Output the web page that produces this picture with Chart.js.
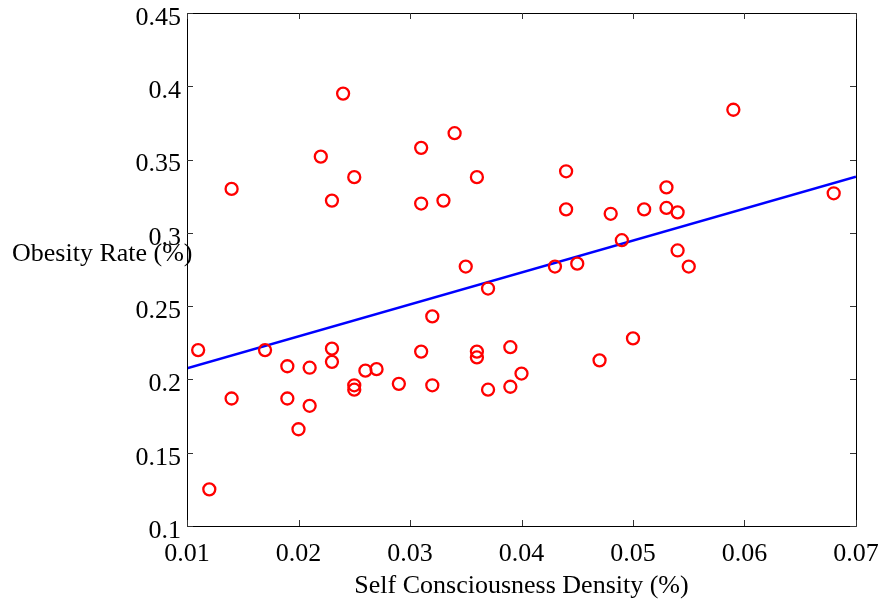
<!DOCTYPE html>
<html>
<head>
<meta charset="utf-8">
<script src="https://cdn.jsdelivr.net/npm/chart.js@4/dist/chart.umd.min.js"></script>
<style>
html,body{margin:0;padding:0;background:#fff;}
#wrap{width:881px;height:600px;}
</style>
</head>
<body>
<div id="wrap"><canvas id="c" width="881" height="600"></canvas></div>
<script>
// Data
const densityX = [0.011,0.012,0.014,0.014,0.017,0.019,0.019,0.020,0.021,0.021,
  0.022,0.023,0.023,0.023,0.024,0.025,0.025,0.025,0.026,0.027,
  0.029,0.031,0.031,0.031,0.032,0.032,0.033,0.034,0.035,0.036,
  0.036,0.036,0.037,0.037,0.039,0.039,0.040,0.043,0.044,0.044,
  0.045,0.047,0.048,0.049,0.050,0.051,0.053,0.053,0.054,0.054,
  0.055,0.059,0.068];
const obesityY = [0.220,0.125,0.330,0.187,0.220,0.209,0.187,0.166,0.208,0.182,
  0.352,0.322,0.221,0.212,0.395,0.338,0.196,0.193,0.206,0.207,
  0.197,0.358,0.320,0.219,0.243,0.196,0.322,0.368,0.277,0.338,
  0.219,0.215,0.262,0.193,0.222,0.195,0.204,0.277,0.342,0.316,
  0.279,0.213,0.313,0.295,0.228,0.316,0.331,0.317,0.314,0.288,
  0.277,0.384,0.327];
const fitX = [0.01, 0.07];
const fitY = [0.2076, 0.3383];
const xTickValues = [0.01,0.02,0.03,0.04,0.05,0.06,0.07];
const yTickValues = [0.1,0.15,0.2,0.25,0.3,0.35,0.4,0.45];
const xTitle = 'Self Consciousness Density (%)';
const yTitle = 'Obesity Rate (%)';

const FONT = '"Liberation Serif","Times New Roman",serif';
const FS = 26;
const scatterData = densityX.map((x,i)=>({x:x,y:obesityY[i]}));
const fitData = fitX.map((x,i)=>({x:x,y:fitY[i]}));

const frame = {
  id:'frame',
  afterDraw(chart){
    const ctx = chart.ctx, a = chart.chartArea;
    const xs = chart.scales.x, ys = chart.scales.y;
    ctx.save();
    ctx.strokeStyle = '#000';
    ctx.lineWidth = 1;
    ctx.beginPath();
    ctx.rect(Math.round(a.left)+0.5, Math.round(a.top)+0.5, Math.round(a.right-a.left), Math.round(a.bottom-a.top));
    ctx.stroke();
    const L = 6;
    ctx.strokeStyle = '#333';
    ctx.beginPath();
    xTickValues.forEach(v=>{
      const p = Math.round(xs.getPixelForValue(v))+0.5;
      ctx.moveTo(p,a.bottom); ctx.lineTo(p,a.bottom-L);
      ctx.moveTo(p,a.top); ctx.lineTo(p,a.top+L);
    });
    yTickValues.forEach(v=>{
      const p = Math.round(ys.getPixelForValue(v))+0.5;
      ctx.moveTo(a.left,p); ctx.lineTo(a.left+L,p);
      ctx.moveTo(a.right,p); ctx.lineTo(a.right-L,p);
    });
    ctx.stroke();
    ctx.fillStyle = '#000';
    ctx.font = FS + 'px ' + FONT;
    ctx.textBaseline = 'middle';
    ctx.textAlign = 'left';
    ctx.fillText(yTitle, 12, 254);
    ctx.restore();
  }
};

new Chart(document.getElementById('c'), {
  type:'scatter',
  data:{
    datasets:[
      {type:'line', data:fitData, borderColor:'#0000ff', borderWidth:2.7, pointRadius:0, fill:false, tension:0, order:2},
      {data:scatterData, pointStyle:'circle', pointRadius:6, pointBorderWidth:2.3, borderColor:'#ff0000', backgroundColor:'rgba(0,0,0,0)', pointBackgroundColor:'rgba(0,0,0,0)', pointBorderColor:'#ff0000', showLine:false, order:1}
    ]
  },
  options:{
    responsive:false,
    animation:false,
    events:[],
    layout:{padding:{top:13,right:25,left:0,bottom:0}},
    plugins:{legend:{display:false},tooltip:{enabled:false}},
    scales:{
      x:{
        type:'linear', min:0.01, max:0.07,
        afterBuildTicks(s){ s.ticks = xTickValues.map(v=>({value:v})); },
        afterFit(s){ s.height = 74; s.paddingLeft = 0; s.paddingRight = 0; },
        grid:{display:false, drawTicks:false},
        border:{display:false},
        ticks:{color:'#000', font:{family:FONT,size:FS}, padding:13, maxRotation:0, autoSkip:false,
          callback:(v)=>String(Math.round(v*100)/100)},
        title:{display:true, text:xTitle, color:'#000', font:{family:FONT,size:FS}, padding:{top:0,bottom:-2}}
      },
      y:{
        type:'linear', min:0.1, max:0.45,
        afterBuildTicks(s){ s.ticks = yTickValues.map(v=>({value:v})); },
        afterFit(s){ s.width = 187; s.paddingTop = 0; s.paddingBottom = 0; },
        grid:{display:false, drawTicks:false},
        border:{display:false},
        ticks:{color:'#000', font:{family:FONT,size:FS}, padding:6, labelOffset:5, autoSkip:false,
          callback:(v)=>String(Math.round(v*100)/100)}
      }
    }
  },
  plugins:[frame]
});
</script>
</body>
</html>
